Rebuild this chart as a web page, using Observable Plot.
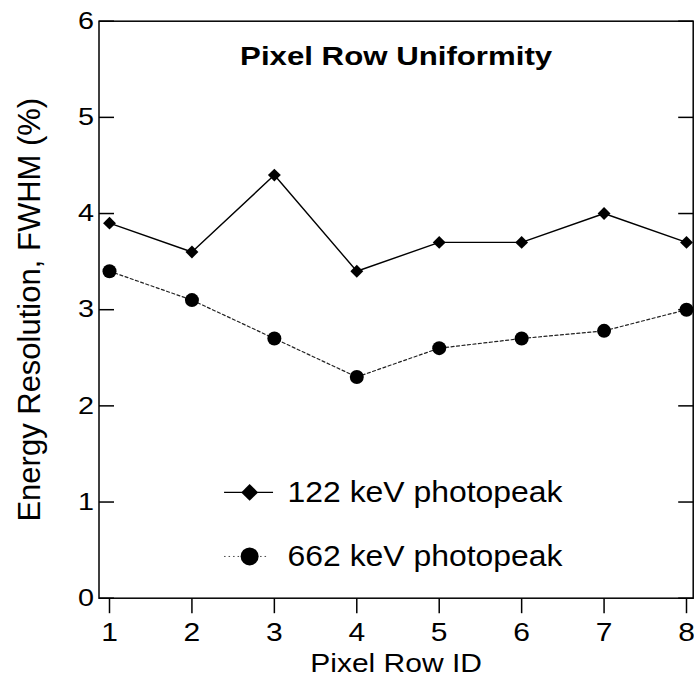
<!DOCTYPE html>
<html><head><meta charset="utf-8">
<script src="https://cdn.jsdelivr.net/npm/d3@7"></script>
<script src="https://cdn.jsdelivr.net/npm/@observablehq/plot@0.6"></script>
<style>body{margin:0;background:#fff} #chart svg{display:block}</style>
</head><body><div id="chart"></div>
<script>
const rows = [1, 2, 3, 4, 5, 6, 7, 8];
const res122 = [3.9, 3.6, 4.4, 3.4, 3.7, 3.7, 4.0, 3.7];
const res662 = [3.4, 3.1, 2.7, 2.3, 2.6, 2.7, 2.78, 3.0];
const seriesNames = ["122 keV photopeak", "662 keV photopeak"];
const xTicks = [1, 2, 3, 4, 5, 6, 7, 8];
const yTicks = [0, 1, 2, 3, 4, 5, 6];
const titleText = "Pixel Row Uniformity";
const xLabel = "Pixel Row ID";
const yLabel = "Energy Resolution, FWHM (%)";

const d122 = rows.map((r, i) => ({row: r, v: res122[i]}));
const d662 = rows.map((r, i) => ({row: r, v: res662[i]}));

// tick glyphs (pixel length is a style)
const tickRight = {draw(c) { c.moveTo(0, 0); c.lineTo(15, 0); }};
const tickLeft = {draw(c) { c.moveTo(0, 0); c.lineTo(-15, 0); }};
const tickDown = {draw(c) { c.moveTo(0, 0); c.lineTo(0, 15); }};

// legend placement in data units
const legA = {y: 1.10, x1: 2.396, x2: 2.99, xm: 2.70, xt: 3.16};
const legB = {y: 0.434, x1: 2.396, x2: 2.942, xm: 2.70, xt: 3.16};

const font = "'Liberation Sans', Arial, Helvetica, sans-serif";

const chart = Plot.plot({
  width: 694,
  height: 679,
  marginLeft: 98.5,
  marginRight: 1.3,
  marginTop: 20.7,
  marginBottom: 81.3,
  style: {fontFamily: font, background: "#fff", color: "#000"},
  x: {domain: [1, 8], range: [109, 686]},
  y: {domain: [0, 6], range: [597.7, 20.7]},
  marks: [
    Plot.line(d122, {x: "row", y: "v", stroke: "#000", strokeWidth: 1.4}),
    Plot.line(d662, {x: "row", y: "v", stroke: "#222", strokeWidth: 1.2, strokeDasharray: "3,2.5"}),
    Plot.dot(d122, {x: "row", y: "v", symbol: "diamond2", r: 5.8, fill: "#000"}),
    Plot.dot(d662, {x: "row", y: "v", symbol: "circle", r: 7, fill: "#000"}),
    // legend
    Plot.ruleY([legA.y], {x1: legA.x1, x2: legA.x2, stroke: "#000", strokeWidth: 1.3}),
    Plot.ruleY([legB.y], {x1: legB.x1, x2: legB.x2, stroke: "#444", strokeWidth: 1, strokeDasharray: "1.5,3"}),
    Plot.dot([legA], {x: "xm", y: "y", symbol: "diamond2", r: 7.6, fill: "#000"}),
    Plot.dot([legB], {x: "xm", y: "y", symbol: "circle", r: 9, fill: "#000"}),
    Plot.text([seriesNames[0]], {x: legA.xt, y: legA.y, text: d => d, textAnchor: "start", lineAnchor: "middle", fontSize: 29, fill: "#000"}),
    Plot.text([seriesNames[1]], {x: legB.xt, y: legB.y, text: d => d, textAnchor: "start", lineAnchor: "middle", fontSize: 29, fill: "#000"}),
    // frame and ticks
    Plot.frame({stroke: "#000", strokeWidth: 1.5}),
    Plot.dot(yTicks, {y: d => d, frameAnchor: "left", symbol: tickRight, stroke: "#000", strokeWidth: 1.5, fill: "none"}),
    Plot.dot(yTicks, {y: d => d, frameAnchor: "right", symbol: tickLeft, stroke: "#000", strokeWidth: 1.5, fill: "none"}),
    Plot.dot(xTicks, {x: d => d, frameAnchor: "bottom", symbol: tickDown, stroke: "#000", strokeWidth: 1.5, fill: "none"}),
    // axes labels
    Plot.axisX(xTicks, {tickSize: 0, tickPadding: 25, fontSize: 25, label: null, fill: "#000", tickFormat: d3.format("d")}),
    Plot.axisY(yTicks, {tickSize: 0, tickPadding: 5, fontSize: 24, label: null, fill: "#000", tickFormat: d3.format("d")}),
    Plot.text([xLabel], {frameAnchor: "bottom", dy: 65.5, text: d => d, textAnchor: "middle", lineAnchor: "middle", fontSize: 25, fill: "#000"}),
    Plot.text([yLabel], {frameAnchor: "left", dx: -68.5, rotate: -90, text: d => d, textAnchor: "middle", lineAnchor: "middle", fontSize: 31, fill: "#000"}),
    Plot.text([titleText], {frameAnchor: "top", dy: 35.5, text: d => d, textAnchor: "middle", lineAnchor: "middle", fontSize: 26, fontWeight: "bold", fill: "#000"})
  ]
});
document.getElementById("chart").append(chart);

// horizontal glyph stretch to match the reference's wide lettering
chart.querySelectorAll("text").forEach(t => {
  const tr = t.getAttribute("transform") || "";
  if (tr.includes("rotate")) return;
  const S = seriesNames.includes(t.textContent) ? 1.1 : 1.2;
  const w = t.getComputedTextLength();
  if (w > 0) {
    t.setAttribute("textLength", (w * S).toFixed(2));
    t.setAttribute("lengthAdjust", "spacingAndGlyphs");
  }
});
</script>
</body></html>
